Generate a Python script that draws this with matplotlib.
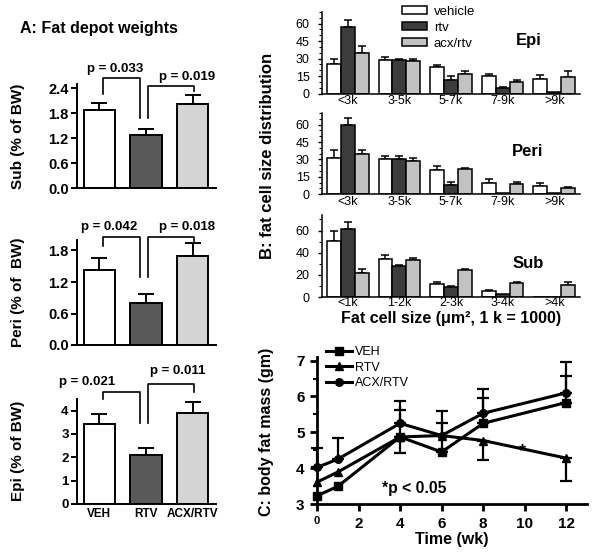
import matplotlib
matplotlib.use('Agg')
import matplotlib.pyplot as plt
from matplotlib.ticker import MultipleLocator, FormatStrFormatter
import numpy as np

plt.rcParams['font.family'] = ['Liberation Sans', 'DejaVu Sans']

# ---------------- data ----------------
groups_a = ['VEH', 'RTV', 'ACX/RTV']
sub_mean = [1.87, 1.28, 2.03]
sub_sem = [0.18, 0.14, 0.20]
peri_mean = [1.42, 0.80, 1.69]
peri_sem = [0.24, 0.17, 0.25]
epi_mean = [3.42, 2.12, 3.92]
epi_sem = [0.45, 0.30, 0.47]
sub_p = ['p = 0.033', 'p = 0.019']
peri_p = ['p = 0.042', 'p = 0.018']
epi_p = ['p = 0.021', 'p = 0.011']

bins_large = ['<3k', '3-5k', '5-7k', '7-9k', '>9k']
bins_small = ['<1k', '1-2k', '2-3k', '3-4k', '>4k']
series_b = ['vehicle', 'rtv', 'acx/rtv']

epi_b_vehicle = [25.0, 28.7, 22.6, 14.8, 12.6]
epi_b_rtv = [57.2, 28.7, 12.0, 4.5, 1.5]
epi_b_acx = [35.2, 27.6, 17.0, 9.8, 14.2]
epi_b_vehicle_err = [4.5, 2.3, 2.2, 2.2, 3.0]
epi_b_rtv_err = [5.6, 0.9, 3.0, 0.8, 0.0]
epi_b_acx_err = [5.3, 2.3, 2.3, 1.9, 4.8]

peri_b_vehicle = [31.2, 30.3, 21.0, 10.0, 7.2]
peri_b_rtv = [60.0, 30.3, 8.0, 1.4, 0.9]
peri_b_acx = [34.6, 29.1, 22.0, 8.9, 5.2]
peri_b_vehicle_err = [6.6, 2.3, 3.5, 3.0, 2.8]
peri_b_rtv_err = [5.8, 2.3, 3.0, 0.0, 0.0]
peri_b_acx_err = [3.2, 2.1, 1.0, 2.0, 1.4]

sub_b_vehicle = [50.1, 34.2, 11.7, 5.7, 0.0]
sub_b_rtv = [61.2, 27.6, 8.7, 2.7, 0.0]
sub_b_acx = [21.6, 33.3, 24.0, 12.6, 10.8]
sub_b_vehicle_err = [9.6, 3.6, 1.5, 0.6, 0.0]
sub_b_rtv_err = [6.3, 1.5, 0.9, 0.0, 0.0]
sub_b_acx_err = [3.6, 1.8, 1.2, 0.9, 2.7]

time_wk = [0, 1, 4, 6, 8, 12]
veh_mass = [3.23, 3.49, 4.87, 4.45, 5.25, 5.83]
rtv_mass = [3.61, 3.89, 4.87, 4.91, 4.77, 4.28]
acx_mass = [4.02, 4.25, 5.25, 4.91, 5.53, 6.10]
veh_err_up = [0.0, 0.0, 0.75, 0.80, 0.71, 0.73]
rtv_err_low = [0.0, 0.0, 0.45, 0.0, 0.54, 0.64]
acx_err_up = [0.55, 0.58, 0.63, 0.67, 0.68, 0.86]
series_c = ['VEH', 'RTV', 'ACX/RTV']

# ---------------- figure ----------------
W, H = 600, 552
fig = plt.figure(figsize=(6, 5.52), dpi=100)


def rect(x0, y0, x1, y1):
    return [x0 / W, 1 - y1 / H, (x1 - x0) / W, (y1 - y0) / H]


def fx(x):
    return x / W


def fy(y):
    return 1 - y / H


colors_a = ['white', '#595959', '#d4d4d4']


def draw_a(ax, mean, sem, ylim, yticks, fmt, brackets, ptexts, ptext_pos, tick_fs):
    x = np.arange(len(mean))
    ax.bar(x, mean, width=0.67, color=colors_a, edgecolor='black', linewidth=1.4, zorder=2)
    ax.errorbar(x, mean, yerr=[np.zeros(len(sem)), sem], fmt='none', ecolor='black',
                elinewidth=1.4, capsize=6, capthick=1.4, zorder=1)
    ax.set_xlim(-0.48, 2.5)
    ax.set_ylim(*ylim)
    ax.set_yticks(yticks)
    ax.yaxis.set_major_formatter(FormatStrFormatter(fmt))
    for s in ['top', 'right']:
        ax.spines[s].set_visible(False)
    for s in ['left', 'bottom']:
        ax.spines[s].set_linewidth(1.4)
    ax.tick_params(axis='y', direction='out', length=4, width=1.4, labelsize=tick_fs, pad=2)
    ax.tick_params(axis='x', length=0)
    for lbl in ax.get_yticklabels():
        lbl.set_fontweight('bold')
    for br in brackets:
        xs, ys = zip(*br)
        ax.plot(xs, ys, color='black', lw=1.2, clip_on=False)
    for t, (px, py) in zip(ptexts, ptext_pos):
        ax.text(px, py, t, ha='center', va='center', fontsize=9.5, fontweight='bold', clip_on=False)


# Sub
ax_sub = fig.add_axes(rect(77, 84, 216, 188))
draw_a(ax_sub, sub_mean, sub_sem, (0, 2.5), [0, 0.6, 1.2, 1.8, 2.4], '%.1f',
       [[(0.075, 2.26), (0.075, 2.64), (0.87, 2.64), (0.87, 1.68)],
        [(1.04, 1.68), (1.04, 2.45), (2.02, 2.45), (2.02, 2.33)]],
       sub_p, [(0.33, 2.86), (1.875, 2.68)], 10.5)
ax_sub.set_xticks([])

# Peri
ax_peri = fig.add_axes(rect(77, 240, 216, 345))
draw_a(ax_peri, peri_mean, peri_sem, (0, 2.0), [0, 0.6, 1.2, 1.8], '%.1f',
       [[(0.075, 1.89), (0.075, 2.05), (0.87, 2.05), (0.87, 1.29)],
        [(1.04, 1.29), (1.04, 2.05), (2.02, 2.05), (2.02, 1.98)]],
       peri_p, [(0.2, 2.24), (1.875, 2.24)], 10.5)
ax_peri.set_xticks([])

# Epi
ax_epi = fig.add_axes(rect(77, 399, 216, 504))
draw_a(ax_epi, epi_mean, epi_sem, (0, 4.5), [0, 1, 2, 3, 4], '%d',
       [[(0.075, 4.52), (0.075, 4.82), (0.87, 4.82), (0.87, 3.48)],
        [(1.04, 3.48), (1.04, 5.16), (2.02, 5.16), (2.02, 4.82)]],
       epi_p, [(-0.26, 5.25), (1.68, 5.68)], 9.5)
ax_epi.set_xticks(np.arange(3))
ax_epi.set_xticklabels(groups_a, fontsize=8.5, fontweight='bold')
ax_epi.tick_params(axis='x', pad=3)

fig.text(fx(20), fy(29), 'A: Fat depot weights', fontsize=11.5, fontweight='bold', ha='left', va='center')
fig.text(fx(18), fy(136), 'Sub (% of BW)', rotation=90, fontsize=11, fontweight='bold', ha='center', va='center')
fig.text(fx(18), fy(292), 'Peri (% of  BW)', rotation=90, fontsize=11, fontweight='bold', ha='center', va='center')
fig.text(fx(18), fy(451), 'Epi (% of BW)', rotation=90, fontsize=11, fontweight='bold', ha='center', va='center')

# ---------------- Panel B ----------------
colors_b = ['white', '#3c3c3c', '#c2c2c2']


def draw_b(ax, vals, errs, labels, ylim, yticks, minor, name, name_xy, legend=False):
    x = np.arange(len(labels))
    offs = [-0.27, 0.0, 0.27]
    handles = []
    for v, e, c, o, s in zip(vals, errs, colors_b, offs, series_b):
        v = np.asarray(v)
        e = np.asarray(e)
        b = ax.bar(x + o, v, width=0.27, color=c, edgecolor='black', linewidth=1.1, zorder=2, label=s)
        handles.append(b)
        m = e > 0
        ax.errorbar((x + o)[m], v[m], yerr=[np.zeros(m.sum()), e[m]], fmt='none', ecolor='black',
                    elinewidth=1.1, capsize=3, capthick=1.1, zorder=1)
    ax.set_xlim(-0.5, 4.5)
    ax.set_ylim(*ylim)
    ax.set_yticks(yticks)
    ax.yaxis.set_minor_locator(MultipleLocator(minor))
    ax.set_xticks(x)
    ax.set_xticklabels(labels, fontsize=9)
    for s in ['top', 'right']:
        ax.spines[s].set_visible(False)
    for s in ['left', 'bottom']:
        ax.spines[s].set_linewidth(1.1)
    ax.tick_params(axis='y', which='major', direction='out', length=3, width=1, labelsize=9, pad=6)
    ax.tick_params(axis='y', which='minor', direction='out', length=2, width=0.8)
    ax.tick_params(axis='x', length=0, pad=1)
    ax.text(name_xy[0], name_xy[1], name, transform=fig.transFigure, fontsize=12,
            fontweight='bold', ha='center', va='center')
    if legend:
        ax.legend(handles=handles, loc='upper left', bbox_to_anchor=(fx(402), fy(6)),
                  bbox_transform=fig.transFigure, frameon=False, fontsize=9.5,
                  handlelength=1.9, handleheight=0.55, labelspacing=0.3,
                  handletextpad=0.5, borderpad=0, borderaxespad=0)


ax_b1 = fig.add_axes(rect(322, 12, 580, 93.5))
draw_b(ax_b1, [epi_b_vehicle, epi_b_rtv, epi_b_acx],
       [epi_b_vehicle_err, epi_b_rtv_err, epi_b_acx_err],
       bins_large, (0, 70), [0, 15, 30, 45, 60], 5, 'Epi', (fx(529), fy(40)), legend=True)

ax_b2 = fig.add_axes(rect(322, 113, 580, 194.3))
draw_b(ax_b2, [peri_b_vehicle, peri_b_rtv, peri_b_acx],
       [peri_b_vehicle_err, peri_b_rtv_err, peri_b_acx_err],
       bins_large, (0, 70), [0, 15, 30, 45, 60], 5, 'Peri', (fx(528), fy(152)))

ax_b3 = fig.add_axes(rect(322, 215, 580, 297))
draw_b(ax_b3, [sub_b_vehicle, sub_b_rtv, sub_b_acx],
       [sub_b_vehicle_err, sub_b_rtv_err, sub_b_acx_err],
       bins_small, (0, 74), [0, 20, 40, 60], 10, 'Sub', (fx(528), fy(263)))
ax_b3.tick_params(axis='x', pad=0)

fig.text(fx(451), fy(318), 'Fat cell size (\u03bcm\u00b2, 1 k = 1000)', fontsize=11.5, fontweight='bold',
         ha='center', va='center')
fig.text(fx(267), fy(156), 'B: fat cell size distribution', rotation=90, fontsize=12,
         fontweight='bold', ha='center', va='center')

# ---------------- Panel C ----------------
ax_c = fig.add_axes(rect(317, 357, 587, 504))
markers = ['s', '^', 'o']
lines = []
for yv, mk, lab in zip([veh_mass, rtv_mass, acx_mass], markers, series_c):
    ln, = ax_c.plot(time_wk, yv, color='black', lw=2.2, marker=mk, markersize=5.5, label=lab,
                    clip_on=False, zorder=3)
    lines.append(ln)


def err(ax, t, y, lo, up):
    t = np.asarray(t, float)
    y = np.asarray(y, float)
    lo = np.asarray(lo, float)
    up = np.asarray(up, float)
    m = (lo > 0) | (up > 0)
    ax.errorbar(t[m], y[m], yerr=[lo[m], up[m]], fmt='none', ecolor='black', elinewidth=1.6,
                capsize=4, capthick=1.6, zorder=2, clip_on=False)


err(ax_c, time_wk, veh_mass, np.zeros(6), veh_err_up)
err(ax_c, time_wk, rtv_mass, rtv_err_low, np.zeros(6))
err(ax_c, time_wk, acx_mass, np.zeros(6), acx_err_up)

ax_c.set_xlim(0, 13)
ax_c.set_ylim(3, 7.1)
ax_c.set_xticks([0, 2, 4, 6, 8, 10, 12])
ax_c.set_yticks([3, 4, 5, 6, 7])
ax_c.yaxis.set_minor_locator(MultipleLocator(0.5))
for s in ['top', 'right']:
    ax_c.spines[s].set_visible(False)
for s in ['left', 'bottom']:
    ax_c.spines[s].set_linewidth(2)
ax_c.tick_params(axis='both', which='major', direction='out', length=5, width=2, labelsize=11, pad=4)
ax_c.tick_params(axis='y', which='minor', direction='out', length=3, width=1.5)
for lbl in ax_c.get_xticklabels() + ax_c.get_yticklabels():
    lbl.set_fontweight('bold')
ax_c.get_xticklabels()[0].set_fontsize(8)
ax_c.set_xlabel('Time (wk)', fontsize=11.5, fontweight='bold', labelpad=1)
ax_c.text(9.9, 4.47, '*', fontsize=13, fontweight='bold', ha='center', va='center')
ax_c.text(fx(414), fy(489), '*p < 0.05', transform=fig.transFigure, fontsize=11.3,
          fontweight='bold', ha='center', va='center')
ax_c.legend(handles=lines, loc='upper left', bbox_to_anchor=(fx(326), fy(346)),
            bbox_transform=fig.transFigure, frameon=False, fontsize=9,
            handlelength=2.1, labelspacing=0.3, handletextpad=0.2, borderpad=0, borderaxespad=0)
fig.text(fx(267), fy(432), 'C: body fat mass (gm)', rotation=90, fontsize=11.5,
         fontweight='bold', ha='center', va='center')

fig.savefig('out.png', dpi=100)
